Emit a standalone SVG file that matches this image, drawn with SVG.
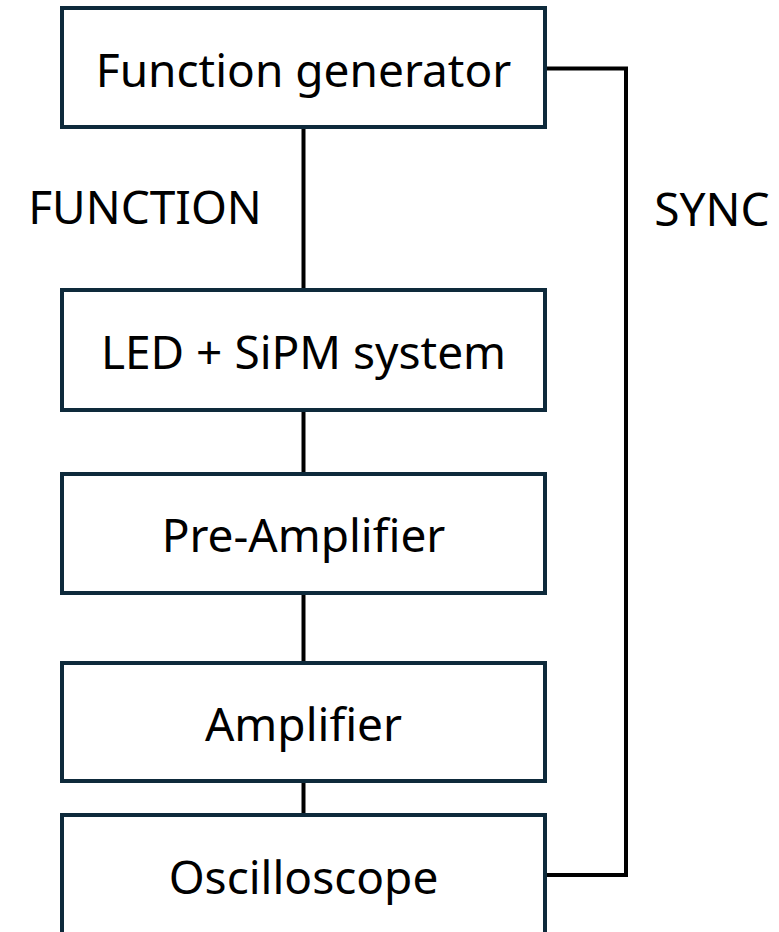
<svg xmlns="http://www.w3.org/2000/svg" width="779" height="932" viewBox="0 0 779 932">
<style>
.box{fill:#ffffff;stroke:#0e2a3b;stroke-width:4}
.lbl{font-family:"Noto Sans","Open Sans","DejaVu Sans",sans-serif;font-size:46px;fill:#000000;text-anchor:middle}
.wire{fill:none;stroke:#000000;stroke-width:4}
</style>
<rect width="779" height="932" fill="#ffffff"/>
<g id="connectors">
<line class="wire" x1="303.5" y1="127" x2="303.5" y2="290"/>
<line class="wire" x1="303.5" y1="410" x2="303.5" y2="474"/>
<line class="wire" x1="303.5" y1="593" x2="303.5" y2="663"/>
<line class="wire" x1="303.5" y1="781" x2="303.5" y2="815"/>
<polyline class="wire" points="545,68.5 626,68.5 626,875 545,875"/>
<text class="lbl" x="145" y="224">FUNCTION</text>
<text class="lbl" x="712" y="226">SYNC</text>
</g>
<g id="function-generator">
<rect class="box" x="62" y="8" width="483" height="119"/>
<text class="lbl" x="303.5" y="87">Function generator</text>
</g>
<g id="led-sipm">
<rect class="box" x="62" y="290" width="483" height="120"/>
<text class="lbl" x="303.5" y="369">LED + SiPM system</text>
</g>
<g id="pre-amplifier">
<rect class="box" x="62" y="474" width="483" height="119"/>
<text class="lbl" x="303.5" y="552">Pre-Amplifier</text>
</g>
<g id="amplifier">
<rect class="box" x="62" y="663" width="483" height="118"/>
<text class="lbl" x="303.5" y="741">Amplifier</text>
</g>
<g id="oscilloscope">
<rect class="box" x="62" y="815" width="483" height="130"/>
<text class="lbl" x="303.5" y="894">Oscilloscope</text>
</g>
</svg>
